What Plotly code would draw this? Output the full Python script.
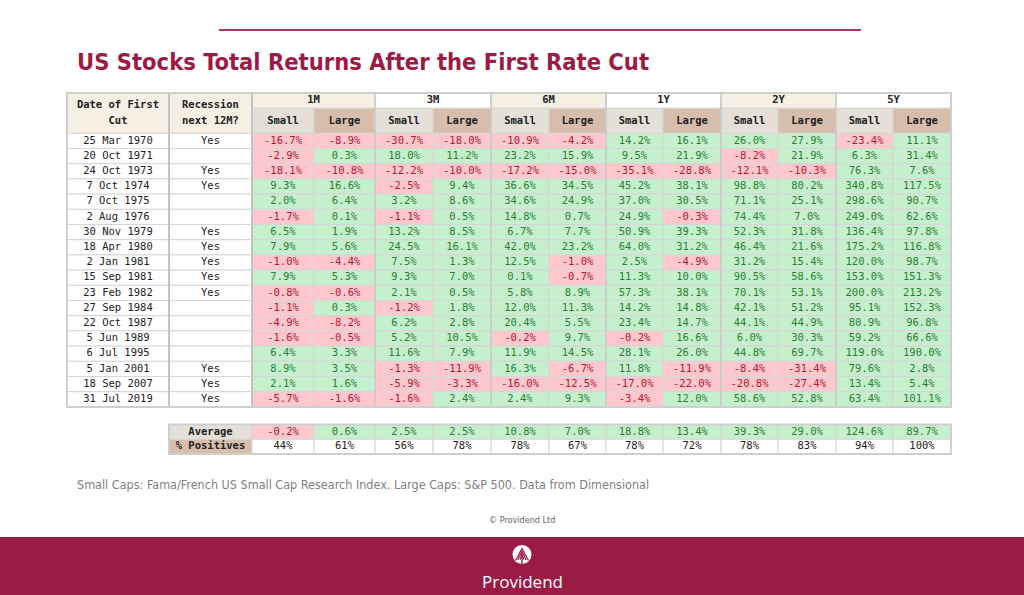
import plotly.graph_objects as go

# ---------------- data ----------------
dates = ["25 Mar 1970", "20 Oct 1971", "24 Oct 1973", "7 Oct 1974", "7 Oct 1975",
         "2 Aug 1976", "30 Nov 1979", "18 Apr 1980", "2 Jan 1981", "15 Sep 1981",
         "23 Feb 1982", "27 Sep 1984", "22 Oct 1987", "5 Jun 1989", "6 Jul 1995",
         "5 Jan 2001", "18 Sep 2007", "31 Jul 2019"]
recession = ["Yes", "", "Yes", "Yes", "", "", "Yes", "Yes", "Yes", "Yes", "Yes",
             "", "", "", "", "Yes", "Yes", "Yes"]
periods = ["1M", "3M", "6M", "1Y", "2Y", "5Y"]
sizes = ["Small", "Large"]

m1_small = [-16.7, -2.9, -18.1, 9.3, 2.0, -1.7, 6.5, 7.9, -1.0, 7.9, -0.8, -1.1, -4.9, -1.6, 6.4, 8.9, 2.1, -5.7]
m1_large = [-8.9, 0.3, -10.8, 16.6, 6.4, 0.1, 1.9, 5.6, -4.4, 5.3, -0.6, 0.3, -8.2, -0.5, 3.3, 3.5, 1.6, -1.6]
m3_small = [-30.7, 18.0, -12.2, -2.5, 3.2, -1.1, 13.2, 24.5, 7.5, 9.3, 2.1, -1.2, 6.2, 5.2, 11.6, -1.3, -5.9, -1.6]
m3_large = [-18.0, 11.2, -10.0, 9.4, 8.6, 0.5, 8.5, 16.1, 1.3, 7.0, 0.5, 1.8, 2.8, 10.5, 7.9, -11.9, -3.3, 2.4]
m6_small = [-10.9, 23.2, -17.2, 36.6, 34.6, 14.8, 6.7, 42.0, 12.5, 0.1, 5.8, 12.0, 20.4, -0.2, 11.9, 16.3, -16.0, 2.4]
m6_large = [-4.2, 15.9, -15.0, 34.5, 24.9, 0.7, 7.7, 23.2, -1.0, -0.7, 8.9, 11.3, 5.5, 9.7, 14.5, -6.7, -12.5, 9.3]
y1_small = [14.2, 9.5, -35.1, 45.2, 37.0, 24.9, 50.9, 64.0, 2.5, 11.3, 57.3, 14.2, 23.4, -0.2, 28.1, 11.8, -17.0, -3.4]
y1_large = [16.1, 21.9, -28.8, 38.1, 30.5, -0.3, 39.3, 31.2, -4.9, 10.0, 38.1, 14.8, 14.7, 16.6, 26.0, -11.9, -22.0, 12.0]
y2_small = [26.0, -8.2, -12.1, 98.8, 71.1, 74.4, 52.3, 46.4, 31.2, 90.5, 70.1, 42.1, 44.1, 6.0, 44.8, -8.4, -20.8, 58.6]
y2_large = [27.9, 21.9, -10.3, 80.2, 25.1, 7.0, 31.8, 21.6, 15.4, 58.6, 53.1, 51.2, 44.9, 30.3, 69.7, -31.4, -27.4, 52.8]
y5_small = [-23.4, 6.3, 76.3, 340.8, 298.6, 249.0, 136.4, 175.2, 120.0, 153.0, 200.0, 95.1, 80.9, 59.2, 119.0, 79.6, 13.4, 63.4]
y5_large = [11.1, 31.4, 7.6, 117.5, 90.7, 62.6, 97.8, 116.8, 98.7, 151.3, 213.2, 152.3, 96.8, 66.6, 190.0, 2.8, 5.4, 101.1]

averages = [-0.2, 0.6, 2.5, 2.5, 10.8, 7.0, 18.8, 13.4, 39.3, 29.0, 124.6, 89.7]
positives = [44, 61, 56, 78, 78, 67, 78, 72, 78, 83, 94, 100]

columns = [m1_small, m1_large, m3_small, m3_large, m6_small, m6_large,
           y1_small, y1_large, y2_small, y2_large, y5_small, y5_large]

title = "US Stocks Total Returns After the First Rate Cut"
footnote = "Small Caps: Fama/French US Small Cap Research Index. Large Caps: S&P 500. Data from Dimensional"

# ---------------- layout / style ----------------
W, H = 1024, 595
X_EDGES = [67, 169, 252, 314, 375, 433, 491, 549, 606, 663, 721, 778, 836, 893, 951]
H1_TOP, H1_BOT, H2_BOT = 93.0, 108.3, 133.3
ROW_H = 15.2
SUM_TOP, SUM_ROW_H = 424.5, 14.8

CRIMSON = "#9C1B45"
BEIGE = "#F5EFE4"
GRAY_HDR = "#E4E0D9"
TAN = "#D7BDAB"
RED_FILL, RED_TXT = "#FFC7CE", "#B0192F"
GRN_FILL, GRN_TXT = "#C6EFCE", "#2A7F30"
GRID = "#D6D6D6"
MONO = "DejaVu Sans Mono, Liberation Mono, monospace"
NARROW = "DejaVu Sans Condensed, Liberation Sans Narrow, sans-serif"

shapes = []


def rect(x0, y0, x1, y1, fill, line=GRID, lw=1):
    shapes.append(dict(type="rect", xref="x", yref="y", x0=x0, x1=x1, y0=y0, y1=y1,
                       fillcolor=fill, line=dict(color=line, width=lw), layer="below"))


def hline(x0, x1, y, color, lw):
    shapes.append(dict(type="line", xref="x", yref="y", x0=x0, x1=x1, y0=y, y1=y,
                       line=dict(color=color, width=lw), layer="below"))


def vline(x, y0, y1, color, lw):
    shapes.append(dict(type="line", xref="x", yref="y", x0=x, x1=x, y0=y0, y1=y1,
                       line=dict(color=color, width=lw), layer="below"))


fig = go.Figure()

tx, ty, tt, tc = [], [], [], []


def txt(x, y, s, color="#222222"):
    tx.append(x); ty.append(y); tt.append(s); tc.append(color)


btx, bty, btt = [], [], []


def btxt(x, y, s):
    btx.append(x); bty.append(y); btt.append("<b>" + s + "</b>")


n_rows = len(dates)
table_bot = H2_BOT + n_rows * ROW_H

# header: date / recession
rect(X_EDGES[0], H1_TOP, X_EDGES[1], H2_BOT, BEIGE)
rect(X_EDGES[1], H1_TOP, X_EDGES[2], H2_BOT, BEIGE)
hc = (H1_TOP + H2_BOT) / 2
btxt((X_EDGES[0] + X_EDGES[1]) / 2, hc - 8, "Date of First")
btxt((X_EDGES[0] + X_EDGES[1]) / 2, hc + 8, "Cut")
btxt((X_EDGES[1] + X_EDGES[2]) / 2, hc - 8, "Recession")
btxt((X_EDGES[1] + X_EDGES[2]) / 2, hc + 8, "next 12M?")

# period headers
for p, name in enumerate(periods):
    xa, xb = X_EDGES[2 + 2 * p], X_EDGES[4 + 2 * p]
    rect(xa, H1_TOP, xb, H1_BOT, BEIGE if p % 2 == 0 else "#FFFFFF")
    btxt((xa + xb) / 2, (H1_TOP + H1_BOT) / 2, name)
    for s, sname in enumerate(sizes):
        ca, cb = X_EDGES[2 + 2 * p + s], X_EDGES[3 + 2 * p + s]
        rect(ca, H1_BOT, cb, H2_BOT, GRAY_HDR if s == 0 else TAN)
        btxt((ca + cb) / 2, (H1_BOT + H2_BOT) / 2 + 1, sname)

# data rows
for r in range(n_rows):
    y0 = H2_BOT + r * ROW_H
    y1 = y0 + ROW_H
    yc = (y0 + y1) / 2
    rect(X_EDGES[0], y0, X_EDGES[1], y1, "#FFFFFF")
    rect(X_EDGES[1], y0, X_EDGES[2], y1, "#FFFFFF")
    txt((X_EDGES[0] + X_EDGES[1]) / 2, yc, dates[r])
    txt((X_EDGES[1] + X_EDGES[2]) / 2, yc, recession[r])
    for c, col in enumerate(columns):
        v = col[r]
        ca, cb = X_EDGES[2 + c], X_EDGES[3 + c]
        neg = v < 0
        rect(ca, y0, cb, y1, RED_FILL if neg else GRN_FILL)
        txt((ca + cb) / 2, yc, f"{v:.1f}%", RED_TXT if neg else GRN_TXT)

# heavier dividers
vline(X_EDGES[1], H1_TOP, table_bot, "#C4C4C4", 2)
vline(X_EDGES[2], H1_TOP, table_bot, "#C4C4C4", 2)
for p in range(1, len(periods)):
    vline(X_EDGES[2 + 2 * p], H1_TOP, table_bot, "#C8C8C8", 1.5)
shapes.append(dict(type="rect", xref="x", yref="y", x0=X_EDGES[0], x1=X_EDGES[-1],
                   y0=H1_TOP, y1=table_bot, line=dict(color="#CFCFCF", width=2), layer="below"))

# summary table
for i, (label, fill) in enumerate([("Average", GRAY_HDR), ("% Positives", TAN)]):
    y0 = SUM_TOP + i * SUM_ROW_H
    y1 = y0 + SUM_ROW_H
    yc = (y0 + y1) / 2
    rect(X_EDGES[1], y0, X_EDGES[2], y1, fill)
    btxt((X_EDGES[1] + X_EDGES[2]) / 2, yc, label)
    for c in range(len(columns)):
        ca, cb = X_EDGES[2 + c], X_EDGES[3 + c]
        if i == 0:
            v = averages[c]
            neg = v < 0
            rect(ca, y0, cb, y1, RED_FILL if neg else GRN_FILL)
            txt((ca + cb) / 2, yc, f"{v:.1f}%", RED_TXT if neg else GRN_TXT)
        else:
            rect(ca, y0, cb, y1, "#FFFFFF")
            txt((ca + cb) / 2, yc, f"{positives[c]}%", "#222222")
shapes.append(dict(type="rect", xref="x", yref="y", x0=X_EDGES[1], x1=X_EDGES[-1],
                   y0=SUM_TOP, y1=SUM_TOP + 2 * SUM_ROW_H,
                   line=dict(color="#CFCFCF", width=2), layer="below"))

# decorative top line and bottom band
hline(219, 861, 30, "#A8365C", 2)
shapes.append(dict(type="rect", xref="x", yref="y", x0=0, x1=W, y0=537, y1=H,
                   fillcolor=CRIMSON, line=dict(width=0), layer="below"))
# logo
shapes.append(dict(type="circle", xref="x", yref="y", x0=512.5, x1=531.5, y0=545, y1=564,
                   fillcolor="#FFFFFF", line=dict(width=0), layer="above"))
for off in [0, 2.6, 5.2]:
    shapes.append(dict(type="path", xref="x", yref="y",
                       path=f"M {515.5 + off*0.9},{560.5 - off*0.2} L 522,{548.5 + off} L {528.5 - off*0.9},{560.5 - off*0.2}",
                       line=dict(color=CRIMSON, width=1.2), layer="above"))
shapes.append(dict(type="line", xref="x", yref="y", x0=522, x1=522, y0=556, y1=564,
                   line=dict(color=CRIMSON, width=1.4), layer="above"))

fig.add_trace(go.Scatter(x=tx, y=ty, text=tt, mode="text", textposition="middle center",
                         textfont=dict(family=MONO, size=10.5, color=tc),
                         hoverinfo="skip", showlegend=False))
fig.add_trace(go.Scatter(x=btx, y=bty, text=btt, mode="text", textposition="middle center",
                         textfont=dict(family=MONO, size=10.5, color="#222222"),
                         hoverinfo="skip", showlegend=False))

annotations = [
    dict(x=75, y=62, xref="x", yref="y", text="<b>" + title + "</b>", showarrow=False,
         xanchor="left", yanchor="middle",
         font=dict(family=NARROW, size=23.5, color=CRIMSON)),
    dict(x=75, y=484, xref="x", yref="y", text=footnote, showarrow=False,
         xanchor="left", yanchor="middle",
         font=dict(family=NARROW, size=12.5, color="#7F7F7F")),
    dict(x=522, y=520, xref="x", yref="y", text="© Providend Ltd", showarrow=False,
         xanchor="center", yanchor="middle",
         font=dict(family=NARROW, size=9, color="#666666")),
    dict(x=522, y=581, xref="x", yref="y", text="Providend", showarrow=False,
         xanchor="center", yanchor="middle",
         font=dict(family="Open Sans, sans-serif", size=17, color="#FFFFFF")),
]

fig.update_layout(
    width=W, height=H, margin=dict(l=0, r=0, t=0, b=0),
    paper_bgcolor="#FFFFFF", plot_bgcolor="#FFFFFF",
    xaxis=dict(range=[0, W], visible=False, fixedrange=True),
    yaxis=dict(range=[H, 0], visible=False, fixedrange=True),
    shapes=shapes, annotations=annotations, showlegend=False,
)

fig.write_html("out.html", config={"displayModeBar": False},
               post_script="document.body.style.margin='0px';document.body.style.overflow='hidden';")
